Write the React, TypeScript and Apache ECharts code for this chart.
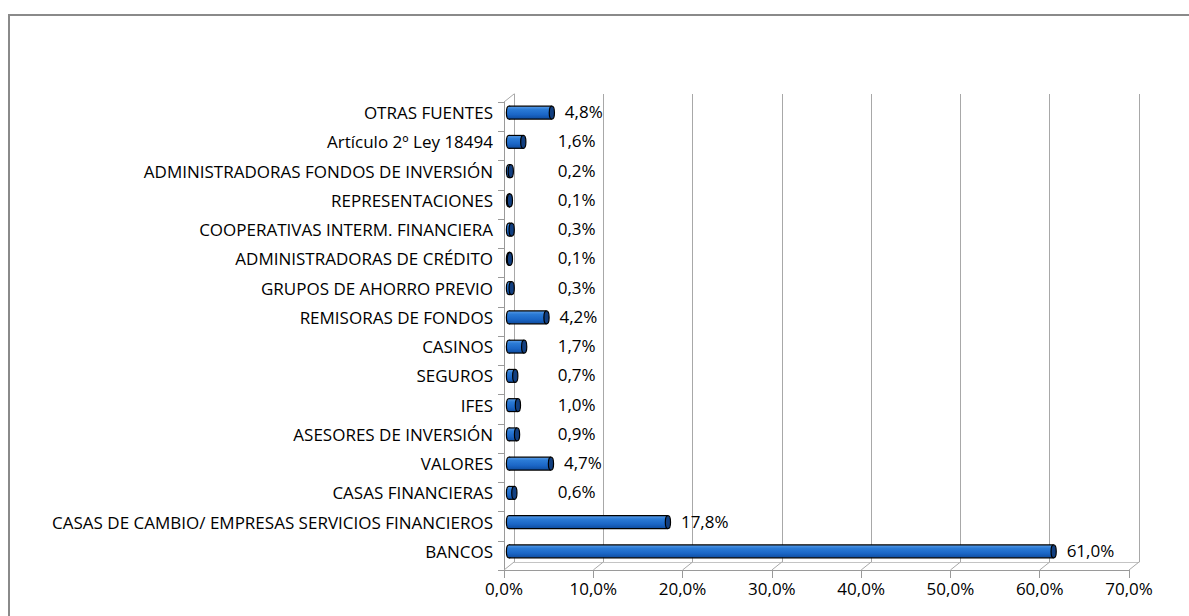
import React, { useEffect, useRef } from "react";
import * as echarts from "echarts";

// Categories listed bottom-to-top (ECharts category y axis starts at the bottom)
const categories = [
  "BANCOS",
  "CASAS DE CAMBIO/ EMPRESAS SERVICIOS FINANCIEROS",
  "CASAS FINANCIERAS",
  "VALORES",
  "ASESORES DE INVERSIÓN",
  "IFES",
  "SEGUROS",
  "CASINOS",
  "REMISORAS DE FONDOS",
  "GRUPOS DE AHORRO PREVIO",
  "ADMINISTRADORAS DE CRÉDITO",
  "COOPERATIVAS INTERM. FINANCIERA",
  "REPRESENTACIONES",
  "ADMINISTRADORAS FONDOS DE INVERSIÓN",
  "Artículo 2º Ley 18494",
  "OTRAS FUENTES",
];
const values = [61.0, 17.8, 0.6, 4.7, 0.9, 1.0, 0.7, 1.7, 4.2, 0.3, 0.1, 0.3, 0.1, 0.2, 1.6, 4.8];
const xTicks = [0, 10, 20, 30, 40, 50, 60, 70];
const X_MIN = 0;
const X_MAX = 70;
const X_STEP = 10;

const FONT = "Open Sans";
const FONT_SIZE = 17;

// 3D box layout: front plane, back plane, and middle (where the cylinders sit)
const FRONT = { left: 504, top: 102, width: 625, height: 468 };
const BACK = { left: 514, top: 94, width: 625, height: 468 };
const MID = { left: 509, top: 98, width: 625, height: 468 };
const DX = BACK.left - FRONT.left;
const DY = BACK.top - FRONT.top;

const fmt = (v: number) => v.toFixed(1).replace(".", ",") + "%";

export default function App() {
  const ref = useRef<HTMLDivElement>(null);

  useEffect(() => {
    if (!ref.current) return;
    const chart = echarts.init(ref.current, undefined, { renderer: "svg" });
    const axisGray = "#9a9a9a";
    const gridGray = "#a8a8a8";

    const barFill = new echarts.graphic.LinearGradient(0, 0, 0, 1, [
      { offset: 0, color: "#5c9ee8" },
      { offset: 0.25, color: "#2b7bd6" },
      { offset: 0.65, color: "#1b66c6" },
      { offset: 1, color: "#0e4c9f" },
    ]);

    const option: any = {
      animation: false,
      backgroundColor: "#ffffff",
      graphic: [
        {
          type: "rect",
          shape: { x: 9, y: 15, width: 1400, height: 800 },
          style: { fill: "none", stroke: "#8a8a8a", lineWidth: 2 },
          silent: true,
        },
      ],
      grid: [
        { ...FRONT, containLabel: false },
        { ...BACK, containLabel: false },
        { ...MID, containLabel: false },
      ],
      xAxis: [
        {
          gridIndex: 0,
          type: "value",
          min: X_MIN,
          max: X_MAX,
          interval: X_STEP,
          axisLine: { show: true, onZero: false, lineStyle: { color: axisGray, width: 1 } },
          axisTick: { show: true, length: 8, lineStyle: { color: axisGray } },
          axisLabel: {
            formatter: (v: number) => fmt(v),
            margin: 10,
            color: "#000",
            fontFamily: FONT,
            fontSize: FONT_SIZE,
          },
          splitLine: { show: false },
        },
        {
          gridIndex: 1,
          type: "value",
          min: X_MIN,
          max: X_MAX,
          interval: X_STEP,
          axisLine: { show: true, onZero: false, lineStyle: { color: "#c4c4c4", width: 1 } },
          axisTick: { show: false },
          axisLabel: { show: false },
          splitLine: { show: true, lineStyle: { color: gridGray, width: 1 } },
        },
        {
          gridIndex: 2,
          type: "value",
          min: X_MIN,
          max: X_MAX,
          interval: X_STEP,
          show: false,
        },
      ],
      yAxis: [
        {
          gridIndex: 0,
          type: "category",
          data: categories,
          axisLine: { show: true, lineStyle: { color: axisGray, width: 1 } },
          axisTick: { show: true, length: 6, lineStyle: { color: axisGray } },
          axisLabel: { show: false },
        },
        {
          gridIndex: 1,
          type: "category",
          data: categories,
          axisLine: { show: true, lineStyle: { color: gridGray, width: 1 } },
          axisTick: { show: false },
          axisLabel: { show: false },
        },
        {
          gridIndex: 2,
          type: "category",
          data: categories,
          axisLine: { show: false },
          axisTick: { show: false },
          axisLabel: {
            show: true,
            margin: 16,
            color: "#000",
            fontFamily: FONT,
            fontSize: FONT_SIZE,
          },
        },
      ],
      series: [
        {
          type: "custom",
          name: "floor",
          xAxisIndex: 0,
          yAxisIndex: 0,
          silent: true,
          clip: false,
          z: 1,
          data: xTicks.map((t) => [t, 0]),
          encode: { x: 0, y: 1 },
          renderItem: (params: any, api: any) => {
            const cs = params.coordSys;
            const v = api.value(0);
            const xf = api.coord([v, 0])[0];
            const bottom = cs.y + cs.height;
            const top = cs.y;
            const children: any[] = [
              {
                type: "line",
                shape: { x1: xf, y1: bottom, x2: xf + DX, y2: bottom + DY },
                style: { stroke: gridGray, lineWidth: 1 },
              },
            ];
            if (v === X_MIN) {
              children.push({
                type: "line",
                shape: { x1: xf, y1: top, x2: xf + DX, y2: top + DY },
                style: { stroke: gridGray, lineWidth: 1 },
              });
            }
            return { type: "group", children };
          },
        },
        {
          type: "custom",
          name: "bars",
          xAxisIndex: 2,
          yAxisIndex: 2,
          clip: false,
          z: 5,
          data: values.map((v, i) => [v, i]),
          encode: { x: 0, y: 1 },
          renderItem: (params: any, api: any) => {
            const v = api.value(0);
            const c = api.value(1);
            const s = api.coord([X_MIN, c]);
            const e = api.coord([v, c]);
            const h = api.size([0, 1])[1] * 0.44;
            const rx = 2.6;
            const y0 = s[1] - h / 2;
            const y1 = s[1] + h / 2;
            const lp = api.coord([Math.max(v, 4.0), c]);
            return {
              type: "group",
              children: [
                {
                  type: "ellipse",
                  shape: { cx: s[0], cy: s[1], rx, ry: h / 2 },
                  style: { fill: barFill, stroke: "#000", lineWidth: 1.2 },
                },
                {
                  type: "rect",
                  shape: { x: s[0], y: y0, width: Math.max(e[0] - s[0], 0), height: h },
                  style: { fill: barFill },
                },
                {
                  type: "line",
                  shape: { x1: s[0], y1: y0, x2: e[0], y2: y0 },
                  style: { stroke: "#000", lineWidth: 1.2 },
                },
                {
                  type: "line",
                  shape: { x1: s[0], y1: y1, x2: e[0], y2: y1 },
                  style: { stroke: "#000", lineWidth: 1.2 },
                },
                {
                  type: "ellipse",
                  shape: { cx: e[0], cy: e[1], rx, ry: h / 2 },
                  style: { fill: "#123f80", stroke: "#000", lineWidth: 1.2 },
                },
                {
                  type: "text",
                  x: lp[0] + 13,
                  y: lp[1] - 1,
                  style: {
                    text: fmt(v),
                    fill: "#000",
                    fontFamily: FONT,
                    fontSize: FONT_SIZE,
                    align: "left",
                    verticalAlign: "middle",
                  },
                },
              ],
            };
          },
        },
      ],
    };

    chart.setOption(option);
    return () => chart.dispose();
  }, []);

  return (
    <div
      ref={ref}
      style={{ position: "fixed", left: 0, top: 0, width: 1189, height: 616, background: "#fff" }}
    />
  );
}
